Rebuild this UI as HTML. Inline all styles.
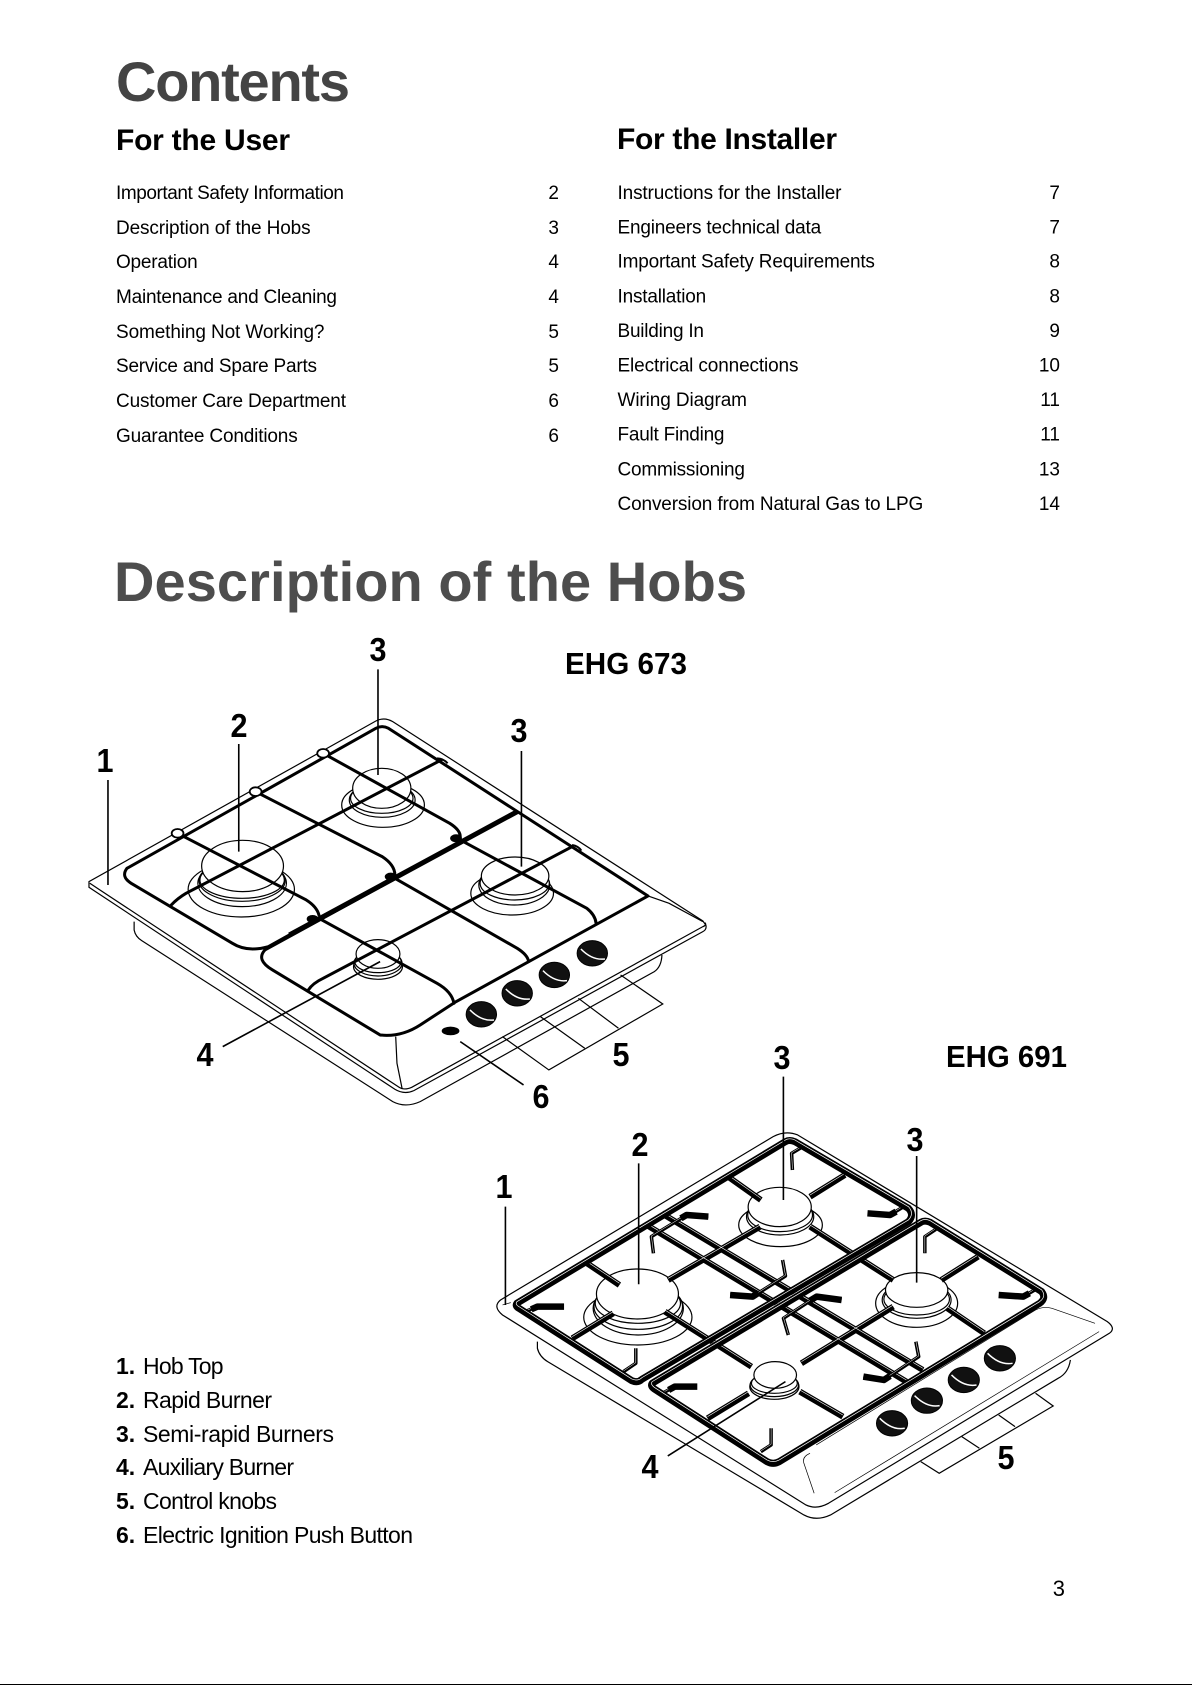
<!DOCTYPE html>
<html><head><meta charset="utf-8"><style>
html,body{margin:0;padding:0;background:#fff;width:1192px;height:1685px;overflow:hidden}
svg{display:block}
svg *{vector-effect:non-scaling-stroke}
text{font-family:"Liberation Sans",sans-serif;fill:#000}
.b{font-weight:bold}
.toc{font-size:19px}
.leg{font-size:23px}
.d{font-size:33px;font-weight:bold;text-anchor:middle}
.t{fill:none;stroke:#000;stroke-width:1.2}
.l{fill:none;stroke:#000;stroke-width:1.6}
.w{fill:#fff;stroke:#000;stroke-width:1.2}
.g{fill:none;stroke:#000;stroke-width:3;stroke-linejoin:round;stroke-linecap:round}
.gb{fill:none;stroke:#000;stroke-width:5}
.f1{fill:none;stroke:#000;stroke-width:7;stroke-linejoin:round}
.f2{fill:none;stroke:#fff;stroke-width:.7;stroke-linejoin:round}
.s1{fill:none;stroke:#000;stroke-width:6;stroke-linecap:butt;stroke-linejoin:round}
.s2{fill:none;stroke:#fff;stroke-width:.6;stroke-linejoin:round}
.k{fill:#111;stroke:#000;stroke-width:1}
.h{fill:none;stroke:#fff;stroke-width:1.5}
</style></head><body>
<svg width="1192" height="1685" viewBox="0 0 1192 1685" xmlns="http://www.w3.org/2000/svg">
<rect width="1192" height="1685" fill="#fff"/>
<rect x="0" y="1684" width="1192" height="1" fill="#000"/>

<text x="116" y="101" class="b" font-size="56" textLength="234" lengthAdjust="spacing" style="fill:#444">Contents</text>
<text x="116" y="150" class="b" font-size="30" textLength="174" style="fill:#000">For the User</text>
<text x="617" y="149" class="b" font-size="30" textLength="220">For the Installer</text>

<g class="toc">
<text x="116" y="199" textLength="228">Important Safety Information</text>
<text x="116" y="234" textLength="194.6">Description of the Hobs</text>
<text x="116" y="268" textLength="81.7">Operation</text>
<text x="116" y="303" textLength="221">Maintenance and Cleaning</text>
<text x="116" y="338" textLength="208.5">Something Not Working?</text>
<text x="116" y="372" textLength="201">Service and Spare Parts</text>
<text x="116" y="407" textLength="230">Customer Care Department</text>
<text x="116" y="442" textLength="181.7">Guarantee Conditions</text>
<text x="559" y="199" text-anchor="end">2</text>
<text x="559" y="234" text-anchor="end">3</text>
<text x="559" y="268" text-anchor="end">4</text>
<text x="559" y="303" text-anchor="end">4</text>
<text x="559" y="338" text-anchor="end">5</text>
<text x="559" y="372" text-anchor="end">5</text>
<text x="559" y="407" text-anchor="end">6</text>
<text x="559" y="442" text-anchor="end">6</text>

<text x="617.5" y="199" textLength="224">Instructions for the Installer</text>
<text x="617.5" y="233.5" textLength="203.7">Engineers technical data</text>
<text x="617.5" y="267.5" textLength="257.4">Important Safety Requirements</text>
<text x="617.5" y="302.5" textLength="88.7">Installation</text>
<text x="617.5" y="337" textLength="86.5">Building In</text>
<text x="617.5" y="371.5" textLength="181">Electrical connections</text>
<text x="617.5" y="406" textLength="129.5">Wiring Diagram</text>
<text x="617.5" y="440.5" textLength="107">Fault Finding</text>
<text x="617.5" y="475.5" textLength="127.4">Commissioning</text>
<text x="617.5" y="510" textLength="305.8">Conversion from Natural Gas to LPG</text>
<text x="1060" y="199" text-anchor="end">7</text>
<text x="1060" y="233.5" text-anchor="end">7</text>
<text x="1060" y="267.5" text-anchor="end">8</text>
<text x="1060" y="302.5" text-anchor="end">8</text>
<text x="1060" y="337" text-anchor="end">9</text>
<text x="1060" y="371.5" text-anchor="end">10</text>
<text x="1060" y="406" text-anchor="end">11</text>
<text x="1060" y="440.5" text-anchor="end">11</text>
<text x="1060" y="475.5" text-anchor="end">13</text>
<text x="1060" y="510" text-anchor="end">14</text>
</g>

<text x="114" y="601" class="b" font-size="56" textLength="633" style="fill:#4d4d4d">Description of the Hobs</text>

<!-- HOB 1 -->
<g transform="translate(70,620) scale(0.4219,0.3333)">
<path class="t" d="M152 905 L152 930 Q155 950 170 962 L765 1445 Q795 1465 830 1445 L1385 1055 Q1402 1040 1403 1005"/>
<path class="w" d="M45 785 L45 802 L770 1408 Q792 1425 815 1412 L1500 935 Q1510 928 1507 915 L1500 903 L765 305 Q745 290 725 303 Z"/>
<path class="t" d="M47 790 L780 1402 Q792 1412 810 1402 L1500 920 Q1510 915 1505 908"/>
<path class="t" d="M772 1250 L775 1330 L787 1405"/>
<path class="t" d="M1370 828 L1420 850 L1500 905"/>

<!-- burners -->
<g>
<ellipse class="w" cx="406" cy="808" rx="126" ry="83"/>
<ellipse class="w" cx="408" cy="790" rx="105" ry="70"/>
<ellipse class="w" cx="408" cy="782" rx="102" ry="62"/>
<ellipse class="w" cx="408" cy="780" rx="100" ry="55"/>
<ellipse class="w" cx="409" cy="738" rx="97" ry="77"/>

<ellipse class="w" cx="742" cy="555" rx="98" ry="67"/>
<ellipse class="w" cx="740" cy="540" rx="78" ry="52"/>
<ellipse class="w" cx="739" cy="535" rx="74" ry="45"/>
<ellipse class="w" cx="739" cy="505" rx="69" ry="60"/>

<ellipse class="w" cx="1048" cy="820" rx="98" ry="65"/>
<ellipse class="w" cx="1053" cy="795" rx="84" ry="60"/>
<ellipse class="w" cx="1054" cy="790" rx="82" ry="50"/>
<ellipse class="w" cx="1055" cy="768" rx="80" ry="57"/>

<ellipse class="w" cx="730" cy="1040" rx="58" ry="38"/>
<ellipse class="w" cx="730" cy="1030" rx="57" ry="38"/>
<ellipse class="w" cx="730" cy="1025" rx="55" ry="33"/>
<ellipse class="w" cx="730" cy="1002" rx="52" ry="43"/>
</g>

<!-- grate -->
<path class="g" d="M520 945 L470 980 Q420 998 385 970 L145 790 Q120 770 135 745 L725 325 Q740 315 755 325 L1370 828 L915 1145 L830 1215 Q785 1252 735 1245 L480 1050 Q440 1020 462 990 L1060 575"/>
<path class="gb" d="M520 945 L1060 575"/>
<path class="g" d="M255 640 L560 840 Q585 860 590 885"/>
<path class="g" d="M590 895 L870 1090 Q905 1115 910 1150"/>
<path class="g" d="M440 515 L740 710 Q770 735 770 765"/>
<path class="g" d="M770 775 L1060 985 Q1085 1005 1087 1025"/>
<path class="g" d="M600 400 L900 610 Q925 630 925 650"/>
<path class="g" d="M925 660 L1225 865 Q1245 885 1247 910"/>
<path class="g" d="M240 855 Q255 835 275 820 L880 420"/>
<path class="g" d="M565 1110 Q575 1090 600 1075 L1190 680"/>
<ellipse class="g" cx="255" cy="640" rx="14" ry="13" style="stroke-width:1.8;fill:#fff"/>
<ellipse class="g" cx="440" cy="515" rx="14" ry="13" style="stroke-width:1.8;fill:#fff"/>
<ellipse class="g" cx="600" cy="400" rx="14" ry="13" style="stroke-width:1.8;fill:#fff"/>
<ellipse cx="575" cy="897" rx="14" ry="12" fill="#000"/>
<ellipse cx="760" cy="770" rx="14" ry="12" fill="#000"/>
<ellipse cx="915" cy="655" rx="14" ry="12" fill="#000"/>
<path class="t" style="stroke-width:2" d="M870 415 Q885 415 895 430 M1190 675 Q1205 678 1212 692"/>

<!-- knobs -->
<g>
<ellipse class="k" cx="975" cy="1183" rx="36" ry="38"/><path class="h" d="M948 1170 Q975 1205 1005 1200"/>
<ellipse class="k" cx="1060" cy="1120" rx="36" ry="38"/><path class="h" d="M1033 1107 Q1060 1142 1090 1137"/>
<ellipse class="k" cx="1148" cy="1065" rx="36" ry="38"/><path class="h" d="M1121 1052 Q1148 1087 1178 1082"/>
<ellipse class="k" cx="1238" cy="1000" rx="36" ry="38"/><path class="h" d="M1211 987 Q1238 1022 1268 1017"/>
<ellipse cx="902" cy="1233" rx="21" ry="13" fill="#000"/>
</g>

<!-- leaders -->
<path class="l" d="M730 148V465 M400 372V695 M90 480V795 M1070 393V740 M362 1280L735 1025 M925 1265L1075 1395"/>
<path class="t" d="M1025 1250L1135 1350L1405 1152L1305 1065 M1115 1190L1220 1285 M1205 1135L1300 1225"/>
</g>

<!-- HOB 2 -->
<defs>
<g id="bars">
<path d="M443 520L1080 990 M406 555L1040 1025"/>
<path d="M255 665L340 735 M605 410L685 480 M805 470L890 405 M225 895L325 820 M459 720L683 560 M805 560L1008 720 M451 815L662 980"/>
<path d="M1125 720L1215 650 M1140 805L1230 880 M784 970L1008 800 M780 1055L885 1130 M555 1135L655 1060"/>
</g>
<g id="arms">
<path d="M610 765 L665 770 L745 708 L738 660"/>
<path d="M557 530 L504 525 L418 590 L423 640"/>
<path d="M882 780 L821 770 L740 835 L752 885"/>
<path d="M935 1010 L985 1020 L1070 950 L1063 905"/>
<path d="M762 390 L760 340 L790 318"/>
<path d="M380 925 L380 970 L350 995"/>
<path d="M1085 640 L1085 590 L1112 568"/>
<path d="M710 1165 L710 1215 L685 1235"/>
<path d="M1000 525 L1040 495"/>
<path d="M140 800 L110 815"/>
<path d="M1325 770 L1360 745"/>
<path d="M475 1040 L445 1060"/>
</g>
<path id="fr1" d="M90 790 L745 305 Q755 298 768 305 L1045 505 Q1060 525 1045 545 L395 1018 Q385 1030 370 1022 L95 805 Q85 798 90 790Z"/>
<path id="fr2" d="M420 1030 L1075 547 Q1085 540 1098 547 L1370 755 Q1382 775 1365 790 L730 1265 Q715 1275 700 1265 L425 1047 Q415 1038 420 1030Z"/>
</defs>
<g transform="translate(480,1040) scale(0.41,0.3333)">
<path class="t" d="M140 905 L140 925 Q145 950 165 965 L790 1425 Q820 1445 855 1425 L1410 1015 Q1435 1000 1440 960"/>
<path class="w" d="M50 780 L715 290 Q745 270 775 285 L1530 845 Q1552 865 1535 880 L850 1390 Q820 1410 795 1395 L55 825 Q30 800 50 780Z"/>
<path class="t" style="stroke-width:.7" d="M820 1215 L1355 810 Q1375 798 1395 805 L1500 850 M865 1358 L1510 875 M805 1240 Q785 1250 790 1270 L815 1360"/>
<path class="t" style="stroke-width:.7" d="M55 795 L75 788"/>

<!-- burners -->
<ellipse class="w" cx="385" cy="832" rx="132" ry="83"/>
<ellipse class="w" cx="386" cy="805" rx="110" ry="80"/>
<ellipse class="w" cx="386" cy="800" rx="108" ry="68"/>
<ellipse class="w" cx="385" cy="790" rx="104" ry="60"/>
<ellipse class="w" cx="384" cy="762" rx="100" ry="75"/>

<ellipse class="w" cx="733" cy="555" rx="102" ry="65"/>
<ellipse class="w" cx="732" cy="530" rx="82" ry="55"/>
<ellipse class="w" cx="732" cy="525" rx="79" ry="50"/>
<ellipse class="w" cx="731" cy="501" rx="77" ry="59"/>

<ellipse class="w" cx="1065" cy="790" rx="100" ry="72"/>
<ellipse class="w" cx="1065" cy="780" rx="84" ry="55"/>
<ellipse class="w" cx="1065" cy="778" rx="80" ry="47"/>
<ellipse class="w" cx="1065" cy="750" rx="76" ry="52"/>

<ellipse class="w" cx="718" cy="1040" rx="60" ry="38"/>
<ellipse class="w" cx="718" cy="1035" rx="59" ry="35"/>
<ellipse class="w" cx="718" cy="1030" rx="56" ry="30"/>
<ellipse class="w" cx="720" cy="1005" rx="52" ry="40"/>

<!-- bars -->
<use href="#bars" class="s1"/>
<use href="#bars" class="s2" y="-5"/>
<use href="#arms" style="stroke-width:3.5;fill:none;stroke:#000;stroke-linejoin:round"/>
<use href="#arms" y="-2" style="stroke-width:.5;fill:none;stroke:#fff;stroke-linejoin:round"/>

<!-- thick feet -->
<path class="s1" style="stroke-width:6.5" d="M945 520L1000 525L1015 515 M205 800L140 800L125 808 M557 530L504 525L490 535 M610 765L665 770L680 758 M1265 765L1325 770L1340 760 M882 780L821 770L805 782 M935 1010L985 1020L1000 1008 M530 1040L475 1040L460 1050"/>

<!-- channel -->
<path d="M410 1030 L1060 548" fill="none" stroke="#fff" style="stroke-width:3"/>

<!-- frames -->
<use href="#fr1" class="f1"/>
<use href="#fr1" class="f2" y="-5"/>
<use href="#fr2" class="f1"/>
<use href="#fr2" class="f2" y="-5"/>

<!-- knobs -->
<ellipse class="k" cx="1005" cy="1150" rx="38" ry="38"/><path class="h" d="M975 1135 Q1005 1172 1036 1165"/>
<ellipse class="k" cx="1090" cy="1082" rx="38" ry="38"/><path class="h" d="M1060 1067 Q1090 1104 1121 1097"/>
<ellipse class="k" cx="1180" cy="1020" rx="38" ry="38"/><path class="h" d="M1150 1005 Q1180 1042 1211 1035"/>
<ellipse class="k" cx="1268" cy="955" rx="38" ry="38"/><path class="h" d="M1238 940 Q1268 977 1299 970"/>

<!-- leaders -->
<path class="l" d="M740 110V480 M1065 348V728 M387 370V733 M62 500V795 M458 1248L745 1025"/>
<path class="t" d="M1075 1265L1120 1300L1398 1098L1355 1060 M1175 1190L1218 1225 M1265 1125L1305 1160"/>
</g>

<!-- labels -->
<text x="378" y="661" class="d" textLength="17" lengthAdjust="spacingAndGlyphs">3</text>
<text x="239" y="737" class="d" textLength="17" lengthAdjust="spacingAndGlyphs">2</text>
<text x="105" y="772" class="d" textLength="17" lengthAdjust="spacingAndGlyphs">1</text>
<text x="519" y="742" class="d" textLength="17" lengthAdjust="spacingAndGlyphs">3</text>
<text x="205" y="1066" class="d" textLength="17" lengthAdjust="spacingAndGlyphs">4</text>
<text x="621" y="1066" class="d" textLength="17" lengthAdjust="spacingAndGlyphs">5</text>
<text x="541" y="1108" class="d" textLength="17" lengthAdjust="spacingAndGlyphs">6</text>
<text x="565" y="674" class="b" font-size="31" textLength="122" lengthAdjust="spacingAndGlyphs">EHG 673</text>
<text x="782" y="1069" class="d" textLength="17" lengthAdjust="spacingAndGlyphs">3</text>
<text x="640" y="1156" class="d" textLength="17" lengthAdjust="spacingAndGlyphs">2</text>
<text x="504" y="1198" class="d" textLength="17" lengthAdjust="spacingAndGlyphs">1</text>
<text x="915" y="1151" class="d" textLength="17" lengthAdjust="spacingAndGlyphs">3</text>
<text x="650" y="1478" class="d" textLength="17" lengthAdjust="spacingAndGlyphs">4</text>
<text x="1006" y="1469" class="d" textLength="17" lengthAdjust="spacingAndGlyphs">5</text>
<text x="946" y="1067" class="b" font-size="31" textLength="121" lengthAdjust="spacingAndGlyphs">EHG 691</text>

<g class="leg">
<text x="116" y="1374" class="b">1.</text><text x="143" y="1374" textLength="80.6">Hob Top</text>
<text x="116" y="1408" class="b">2.</text><text x="143" y="1408" textLength="129">Rapid Burner</text>
<text x="116" y="1442" class="b">3.</text><text x="143" y="1442" textLength="191">Semi-rapid Burners</text>
<text x="116" y="1475" class="b">4.</text><text x="143" y="1475" textLength="151">Auxiliary Burner</text>
<text x="116" y="1509" class="b">5.</text><text x="143" y="1509" textLength="134">Control knobs</text>
<text x="116" y="1543" class="b">6.</text><text x="143" y="1543" textLength="270">Electric Ignition Push Button</text>
</g>
<text x="1065" y="1596" font-size="22" text-anchor="end">3</text>
</svg>
</body></html>
